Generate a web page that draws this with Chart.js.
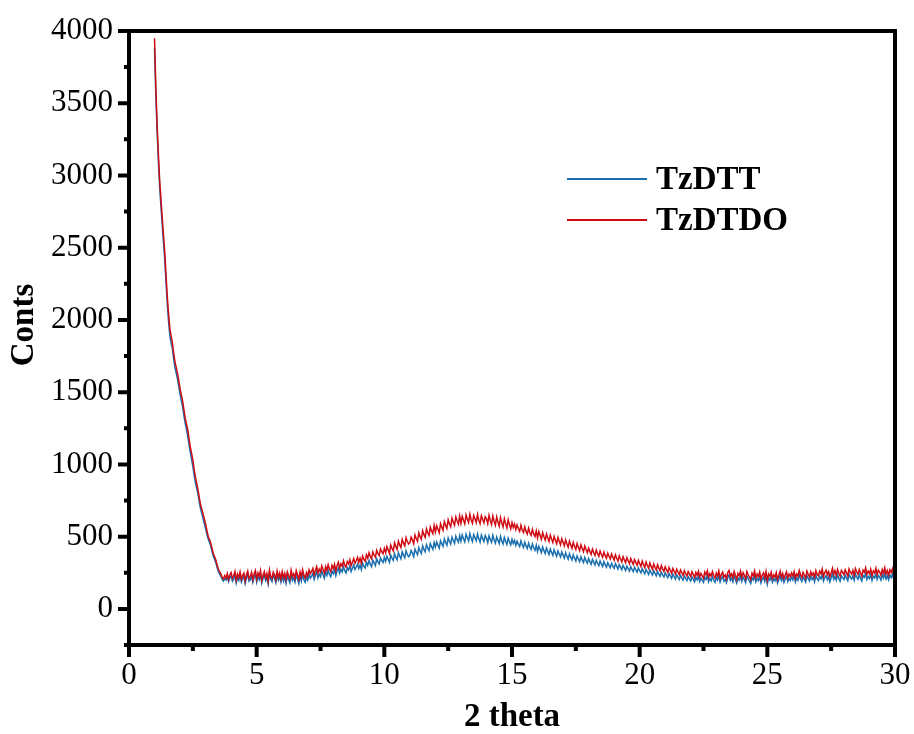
<!DOCTYPE html>
<html>
<head>
<meta charset="utf-8">
<script src="https://cdn.jsdelivr.net/npm/chart.js@4.4.1/dist/chart.umd.min.js"></script>
<style>
  html, body { margin: 0; padding: 0; background: #fff; }
  #xrd { display: block; }
</style>
</head>
<body>
<canvas id="xrd" width="914" height="734"></canvas>
<script>
"use strict";

// --- data (2 theta grid: 1.00 .. 30.00, step 0.05; one row = 1 degree) ---
const X_START = 1.0;
const X_STEP = 0.05;

const SERIES_NAMES = ['TzDTT', 'TzDTDO'];

const TZDTT = [
  3880, 3560, 3310, 3100, 2920, 2790, 2660, 2540, 2420, 2260, 2110, 1990, 1890, 1840, 1800, 1730, 1670, 1630, 1590, 1540,
  1485, 1440, 1398, 1340, 1284, 1242, 1196, 1138, 1083, 1036, 987, 930, 872, 836, 796, 742, 694, 662, 627, 590,
  556, 518, 484, 462, 437, 398, 364, 344, 320, 286, 259, 240, 226, 204, 192, 210, 199, 221, 188, 215,
  228, 191, 204, 236, 179, 218, 197, 233, 186, 209, 224, 175, 214, 238, 192, 201, 229, 183, 217, 240,
  185, 226, 203, 242, 178, 211, 234, 196, 219, 172, 245, 207, 189, 230, 213, 181, 237, 199, 224, 186,
  233, 192, 218, 176, 229, 204, 181, 240, 197, 214, 186, 236, 208, 175, 227, 193, 239, 202, 184, 221,
  199, 238, 212, 227, 246, 204, 233, 258, 215, 241, 222, 261, 236, 212, 255, 231, 268, 239, 223, 262,
  243, 271, 229, 263, 283, 247, 274, 256, 292, 264, 249, 285, 270, 298, 259, 281, 304, 273, 290, 311,
  279, 303, 272, 316, 294, 283, 322, 301, 335, 310, 292, 337, 318, 300, 346, 325, 311, 352, 334, 321,
  356, 329, 364, 343, 322, 371, 351, 336, 382, 358, 340, 389, 366, 347, 395, 372, 353, 402, 377, 361,
  371, 404, 385, 362, 413, 392, 375, 424, 401, 384, 436, 412, 395, 444, 421, 403, 452, 430, 412, 459,
  428, 463, 441, 420, 471, 452, 433, 484, 459, 440, 491, 466, 448, 496, 473, 453, 503, 479, 461, 507,
  468, 512, 486, 463, 517, 492, 470, 521, 489, 466, 514, 493, 471, 519, 485, 462, 511, 488, 467, 508,
  490, 458, 505, 481, 461, 509, 477, 455, 498, 474, 452, 502, 470, 449, 494, 468, 446, 489, 465, 443,
  481, 452, 474, 440, 468, 447, 432, 471, 443, 425, 462, 436, 418, 455, 429, 412, 449, 423, 405, 441,
  397, 433, 412, 389, 428, 403, 383, 421, 398, 376, 414, 392, 371, 409, 386, 364, 401, 380, 360, 394,
  372, 351, 388, 365, 344, 381, 358, 338, 374, 351, 332, 367, 345, 326, 361, 339, 321, 356, 334, 316,
  348, 327, 309, 343, 322, 304, 337, 316, 299, 331, 311, 294, 326, 306, 289, 320, 301, 285, 315, 296,
  281, 313, 294, 276, 307, 289, 271, 302, 284, 266, 297, 279, 262, 292, 274, 258, 288, 270, 254, 283,
  265, 249, 279, 260, 243, 274, 255, 238, 269, 250, 234, 264, 245, 229, 259, 241, 225, 254, 236, 221,
  249, 232, 216, 245, 228, 211, 240, 223, 207, 236, 219, 203, 232, 215, 199, 228, 212, 196, 224, 208,
  193, 221, 206, 187, 218, 201, 226, 190, 213, 197, 183, 220, 204, 229, 188, 211, 195, 224, 200, 184,
  217, 199, 231, 186, 210, 224, 192, 205, 181, 219, 234, 197, 213, 188, 226, 203, 178, 215, 198, 229,
  191, 220, 203, 182, 227, 209, 194, 176, 216, 200, 231, 187, 212, 196, 223, 180, 205, 219, 190, 228,
  171, 214, 199, 226, 185, 208, 193, 221, 178, 204, 232, 195, 215, 183, 207, 224, 189, 212, 197, 220,
  201, 229, 186, 213, 198, 236, 207, 190, 222, 204, 185, 231, 211, 194, 226, 203, 219, 188, 234, 209,
  196, 224, 208, 239, 193, 217, 230, 201, 222, 187, 213, 241, 205, 226, 198, 235, 211, 192, 228, 216,
  203, 233, 214, 195, 238, 219, 207, 229, 198, 242, 221, 205, 236, 213, 193, 231, 218, 246, 204, 225,
  211, 238, 197, 226, 215, 243, 204, 231, 220, 199, 236, 213, 245, 207, 229, 201, 234, 216, 240, 209,
  218
];

const TZDTDO = [
  3950, 3620, 3360, 3150, 2970, 2840, 2710, 2590, 2470, 2310, 2160, 2040, 1940, 1890, 1840, 1770, 1710, 1670, 1630, 1580,
  1525, 1482, 1438, 1380, 1322, 1282, 1240, 1180, 1122, 1078, 1031, 970, 912, 872, 828, 774, 722, 692, 658, 622,
  588, 544, 503, 482, 457, 420, 384, 362, 338, 305, 274, 258, 242, 218, 207, 231, 214, 244, 203, 236,
  251, 212, 229, 259, 198, 240, 217, 256, 205, 232, 247, 194, 236, 262, 210, 224, 253, 201, 241, 265,
  206, 249, 225, 266, 197, 233, 258, 214, 244, 192, 270, 228, 209, 254, 236, 201, 262, 219, 248, 207,
  259, 217, 246, 203, 257, 231, 208, 268, 224, 243, 212, 265, 236, 204, 256, 221, 271, 232, 213, 252,
  229, 270, 244, 259, 281, 236, 267, 293, 248, 276, 256, 298, 271, 247, 292, 266, 306, 276, 259, 301,
  278, 309, 264, 300, 322, 284, 313, 295, 333, 303, 289, 327, 311, 340, 300, 323, 348, 316, 333, 356,
  322, 350, 316, 365, 342, 330, 374, 351, 389, 362, 346, 394, 373, 357, 406, 383, 369, 415, 396, 381,
  419, 389, 431, 408, 385, 442, 419, 402, 457, 431, 412, 469, 443, 425, 481, 455, 436, 492, 466, 449,
  458, 497, 476, 451, 511, 487, 468, 526, 500, 482, 541, 514, 495, 553, 527, 508, 566, 540, 521, 578,
  532, 575, 551, 527, 590, 566, 545, 604, 579, 557, 617, 589, 568, 628, 600, 579, 636, 610, 587, 643,
  592, 641, 613, 588, 650, 622, 598, 655, 617, 593, 646, 624, 597, 653, 614, 590, 645, 620, 596, 638,
  624, 589, 648, 612, 584, 643, 606, 579, 637, 601, 573, 631, 595, 567, 624, 590, 561, 617, 583, 555,
  598, 563, 587, 549, 581, 556, 537, 579, 546, 528, 568, 536, 518, 559, 527, 509, 550, 519, 501, 540,
  491, 536, 510, 482, 528, 500, 476, 519, 491, 467, 510, 483, 459, 502, 475, 451, 494, 467, 444, 486,
  462, 437, 478, 451, 428, 469, 443, 419, 461, 434, 411, 452, 426, 403, 444, 418, 396, 436, 411, 389,
  421, 398, 377, 414, 390, 370, 407, 383, 363, 400, 376, 357, 393, 370, 351, 386, 364, 345, 380, 358,
  338, 375, 352, 331, 368, 345, 325, 361, 339, 319, 355, 333, 313, 348, 327, 308, 342, 321, 302, 336,
  313, 294, 331, 306, 287, 324, 300, 281, 318, 294, 275, 311, 288, 269, 305, 282, 264, 299, 277, 259,
  292, 271, 253, 286, 266, 247, 280, 260, 242, 275, 255, 237, 269, 250, 232, 264, 245, 228, 259, 241,
  224, 257, 238, 218, 252, 232, 261, 221, 246, 228, 212, 255, 235, 264, 219, 244, 226, 258, 231, 214,
  248, 227, 263, 212, 239, 255, 220, 234, 207, 251, 266, 225, 243, 215, 259, 231, 204, 246, 229, 262,
  218, 251, 232, 208, 259, 236, 221, 202, 247, 228, 263, 213, 241, 223, 256, 206, 233, 250, 216, 260,
  198, 242, 225, 254, 211, 236, 219, 251, 204, 232, 262, 220, 245, 209, 234, 256, 214, 241, 224, 249,
  228, 258, 212, 241, 226, 266, 236, 217, 252, 233, 213, 262, 240, 222, 257, 232, 248, 218, 265, 239,
  229, 261, 243, 276, 225, 252, 268, 236, 259, 221, 248, 281, 240, 264, 232, 274, 247, 227, 266, 253,
  237, 270, 249, 228, 276, 254, 241, 266, 231, 280, 257, 239, 273, 248, 226, 269, 253, 285, 238, 262,
  244, 275, 230, 262, 249, 281, 237, 268, 255, 232, 273, 247, 284, 240, 266, 234, 271, 251, 278, 242,
  255
];

const X_TICKS = [0, 5, 10, 15, 20, 25, 30];
const X_MINOR = [2.5, 7.5, 12.5, 17.5, 22.5, 27.5];
const Y_TICKS = [0, 500, 1000, 1500, 2000, 2500, 3000, 3500, 4000];
const Y_MINOR = [-250, 250, 750, 1250, 1750, 2250, 2750, 3250, 3750];

const X_TITLE = '2 theta';
const Y_TITLE = 'Conts';

// --- style ---
const COLORS = { tzdtt: '#1a6fae', tzdtdo: '#cf0a12' };
const TICK_FONT = { family: '"Liberation Serif", "Times New Roman", serif', size: 31 };
const TITLE_FONT = 'bold 33px "Liberation Serif", "Times New Roman", serif';

function toPoints(values) {
    return values.map((v, i) => ({ x: +(X_START + i * X_STEP).toFixed(2), y: v }));
}

// frame + outward major/minor ticks (left & bottom only)
const frameTicks = {
    id: 'frameTicks',
    afterDraw(chart) {
        const { ctx, chartArea: a, scales: { x, y } } = chart;
        ctx.save();
        ctx.strokeStyle = '#000';
        ctx.lineWidth = 4;
        ctx.lineCap = 'butt';
        ctx.beginPath();
        Y_TICKS.forEach(v => {
            const py = y.getPixelForValue(v);
            ctx.moveTo(a.left - 11, py); ctx.lineTo(a.left, py);
        });
        Y_MINOR.forEach(v => {
            const py = y.getPixelForValue(v);
            ctx.moveTo(a.left - 5, py); ctx.lineTo(a.left, py);
        });
        X_TICKS.forEach(v => {
            const px = x.getPixelForValue(v);
            ctx.moveTo(px, a.bottom); ctx.lineTo(px, a.bottom + 12);
        });
        X_MINOR.forEach(v => {
            const px = x.getPixelForValue(v);
            ctx.moveTo(px, a.bottom); ctx.lineTo(px, a.bottom + 6);
        });
        ctx.stroke();
        ctx.strokeRect(a.left, a.top, a.right - a.left, a.bottom - a.top);
        ctx.restore();
    }
};

// axis titles
const axisTitles = {
    id: 'axisTitles',
    afterDraw(chart) {
        const { ctx, chartArea: a } = chart;
        ctx.save();
        ctx.fillStyle = '#000';
        ctx.font = TITLE_FONT;
        ctx.textAlign = 'center';
        ctx.textBaseline = 'middle';
        ctx.fillText(X_TITLE, (a.left + a.right) / 2, 717);
        ctx.translate(24, 325);
        ctx.rotate(-Math.PI / 2);
        ctx.fillText(Y_TITLE, 0, 0);
        ctx.restore();
    }
};

// legend inside the plot
const insideLegend = {
    id: 'insideLegend',
    afterDraw(chart) {
        const { ctx } = chart;
        const rows = [179, 220];
        ctx.save();
        ctx.font = TITLE_FONT;
        ctx.textBaseline = 'middle';
        ctx.textAlign = 'left';
        chart.data.datasets.forEach((ds, i) => {
            const yy = rows[i];
            ctx.strokeStyle = ds.borderColor;
            ctx.lineWidth = 2;
            ctx.beginPath();
            ctx.moveTo(567, yy); ctx.lineTo(647, yy);
            ctx.stroke();
            ctx.fillStyle = '#000';
            ctx.fillText(ds.label, 656, yy + 1);
        });
        ctx.restore();
    }
};

new Chart(document.getElementById('xrd').getContext('2d'), {
    type: 'line',
    data: {
        datasets: [
            { label: SERIES_NAMES[0], data: toPoints(TZDTT), borderColor: COLORS.tzdtt,
              borderWidth: 1.5, pointRadius: 0, tension: 0, order: 2 },
            { label: SERIES_NAMES[1], data: toPoints(TZDTDO), borderColor: COLORS.tzdtdo,
              borderWidth: 1.5, pointRadius: 0, tension: 0, order: 1 }
        ]
    },
    options: {
        responsive: false,
        animation: false,
        devicePixelRatio: 1,
        layout: { padding: { top: 31, right: 19, left: 0, bottom: 0 } },
        plugins: { legend: { display: false }, tooltip: { enabled: false } },
        scales: {
            x: {
                type: 'linear', min: 0, max: 30,
                grid: { display: false, drawTicks: false },
                border: { display: false },
                afterBuildTicks: s => { s.ticks = X_TICKS.map(v => ({ value: v })); },
                afterFit: s => { s.height = 89; s.paddingLeft = 0; s.paddingRight = 0; },
                ticks: { color: '#000', font: TICK_FONT, padding: 12, maxRotation: 0,
                         callback: v => String(v) }
            },
            y: {
                type: 'linear', min: -250, max: 4000,
                grid: { display: false, drawTicks: false },
                border: { display: false },
                afterBuildTicks: s => { s.ticks = Y_TICKS.map(v => ({ value: v })); },
                afterFit: s => { s.width = 129; s.paddingTop = 0; s.paddingBottom = 0; },
                ticks: { color: '#000', font: TICK_FONT, padding: 16,
                         callback: v => String(v) }
            }
        }
    },
    plugins: [frameTicks, axisTitles, insideLegend]
});
</script>
</body>
</html>
